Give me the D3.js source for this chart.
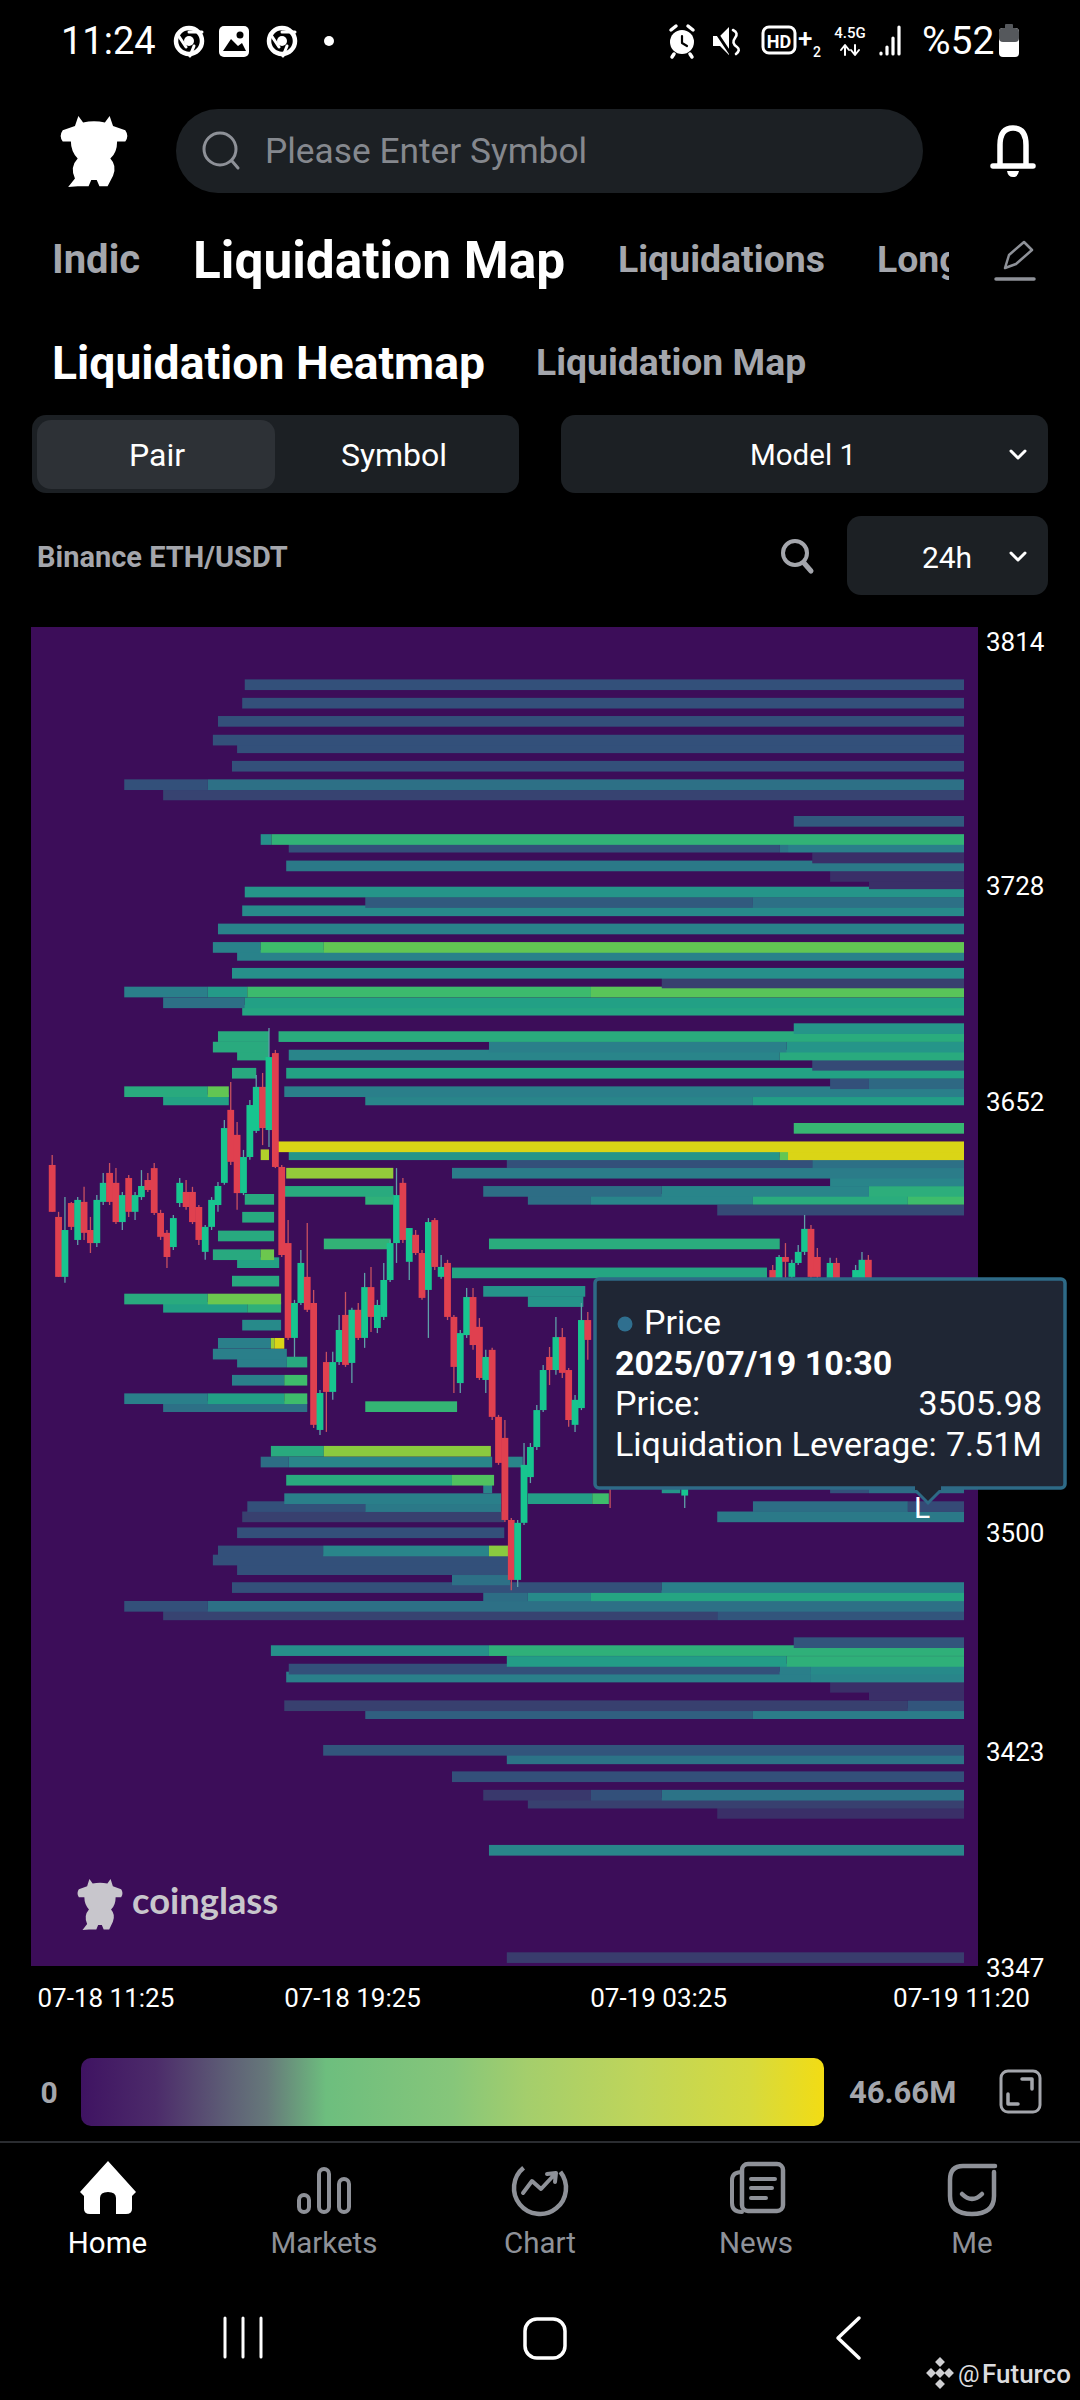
<!DOCTYPE html>
<html><head><meta charset="utf-8">
<script src="https://cdn.jsdelivr.net/npm/d3@7/dist/d3.min.js"></script>
<style>html,body{margin:0;padding:0;background:#000;}svg{display:block;}text{font-family:Roboto,sans-serif;}</style>
</head><body><svg id="c" width="1080" height="2400"></svg>
<script>
// ---------- DATA ----------
const priceTicks = [3814,3728,3652,3500,3423,3347];
const timeTicks = [0,480,960,1435];
const timeLabels = ["07-18 11:25","07-18 19:25","07-19 03:25","07-19 11:20"];
const valueStops = [0,3.5,5.5,8,11,14,17.5,20.5,24,28,32,37,42,46.66];
const valueColors = ["#3c0d59","#3a2f68","#38406f","#33507a","#2d6d85","#2a7f8a","#25938a","#22a085","#2aac7d","#3ebc6b","#62c653","#94cb3a","#c6d220","#ddd514"];
const legendStops = [0,.1,.2,.25,.33,.5,.6,.75,.9,1];
const legendColors = ["#3f1362","#4c2b6a","#5e6076","#66787a","#6dbe7e","#86c67a","#a4ce6c","#bfd55a","#d6da3e","#f2dc14"];
const tooltipTexts = ["Price","2025/07/19 10:30","Price:","3505.98","Liquidation Leverage:","7.51M"];
const navLabels = ["Home","Markets","Chart","News","Me"];

// heat levels: price of each row, and its cells [from minute, to minute, liquidation value in M]
const levelPrices = [3798.5,3792,3785.6,3779,3776.3,3769.8,3763.3,3759.7,3750.4,3744,3741.3,3737.5,3734.7,3731,3728.4,3725.5,3721.8,3718.9,3712.5,3706,3703.2,3696.9,3693.5,3690.3,3686.5,3683.9,3677.4,3674.6,3670.9,3668.1,3664.5,3661.7,3658,3655.2,3652.3,3642.3,3635.8,3633,3630.2,3626.5,3623.8,3620.1,3617.3,3613.5,3611,3604.4,3601.6,3597.8,3595,3591.4,3588.5,3584.9,3582.2,3581.3,3579.3,3573,3566.6,3562.8,3560,3553.6,3547.1,3544.3,3528.6,3524.8,3518.4,3515.7,3511.9,3509.1,3505.5,3499.9,3493.5,3490.3,3486.9,3483.3,3480.6,3477.7,3474,3471,3461.2,3458.4,3454.6,3451.9,3449.1,3445.5,3442.8,3439,3436.2,3423.3,3420.3,3414,3407.5,3404.7,3401.1,3388.1,3350.3];
const levelCells = [
[[307,1435,8]],[[303,1435,8]],[[265,1435,8]],[[257,1435,8]],[[295,1435,8]],[[287,1435,8]],
[[118,249,8],[249,1435,11.5]],[[179,1435,6]],[[1168,1435,9]],
[[332,349,17],[349,1435,25.5]],[[376,1146,8],[1146,1159,12],[1159,1435,14]],[[1197,1435,3.5]],[[372,1435,13]],[[1225,1435,3.5]],[[1286,1435,3.5]],
[[307,1435,18]],[[496,1104,9],[1104,1435,11.5]],[[303,1435,16]],[[265,1435,14.5]],
[[257,332,14.5],[332,431,28],[431,1435,32]],[[295,1435,14.5]],[[287,1435,17]],[[961,1435,5.5]],
[[118,249,14],[249,311,19],[311,850,27.5],[850,1435,31]],[[179,307,11.5],[307,1435,20.5]],[[303,1435,22]],[[1168,1435,18]],
[[265,345,23.5],[360,1435,24]],[[257,345,23.5],[690,1157,14],[1157,1435,18]],[[295,345,23.5],[376,1146,15],[1146,1435,23.5]],[[1197,1435,7]],
[[287,325,23],[372,1435,21]],[[1225,1286,8],[1286,1435,10.5]],[[118,249,23.5],[249,282,32],[369,1435,14]],[[179,282,21],[496,1104,15],[1104,1435,20]],
[[1168,1435,26.5]],[[354,1435,46]],[[332,345,40],[376,1146,18],[1146,1159,32],[1159,1435,46]],[[718,1197,8],[1197,1435,11.5]],
[[372,540,37],[632,1435,13.5]],[[1225,1435,15]],[[369,540,23.5],[681,961,11],[961,1286,15],[1286,1435,24.5]],
[[307,353,23],[496,540,25],[751,850,11],[850,1104,15],[1104,1347,24],[1347,1435,28]],[[1048,1435,7]],[[303,353,23]],[[265,353,23]],
[[431,536,25.5],[690,1146,24]],[[257,332,23],[332,353,33]],[[295,361,21]],[[632,1126,22]],[[287,361,23]],[[681,841,17.5]],
[[118,249,23.5],[249,364,33]],[[751,838,17.5]],[[179,311,20.5],[311,364,25]],[[303,364,16]],
[[265,348,14],[348,354,38],[354,369,46]],[[257,373,14]],[[295,373,14],[373,405,23]],[[287,369,14],[369,405,28]],
[[118,249,14],[249,369,20.5],[369,405,28]],[[179,405,11.5],[496,640,26]],
[[348,431,23.5],[431,693,36]],[[332,376,11],[376,695,15],[718,743,15]],[[372,632,23.5],[632,698,30]],
[[681,695,15],[961,990,18],[1225,1286,8],[1286,1435,11]],[[369,709,14],[751,852,20],[852,878,28]],
[[311,496,8],[496,709,13],[1104,1347,11],[1347,1435,7]],[[303,714,5.5],[1048,1435,13]],[[295,714,8]],
[[265,430,8],[430,690,15],[690,720,36]],[[257,720,8]],[[295,723,8]],[[632,723,11.5]],[[287,961,8],[961,1435,14]],
[[681,751,11],[751,850,16],[850,1435,22]],[[118,249,8],[249,1435,11.5]],[[179,1048,6],[1048,1435,8.5]],[[1168,1435,8.5]],
[[348,690,17],[690,1435,25]],[[718,1157,19.5],[1157,1435,25]],[[376,1146,8],[1146,1195,14],[1195,1435,16]],[[372,1195,14],[1195,1435,15]],
[[1225,1435,3.5]],[[1286,1435,3.5]],[[369,1347,5.5],[1347,1435,8.5]],[[496,1104,9.5],[1104,1435,13.5]],
[[430,1435,8.5]],[[718,1435,12]],[[632,1435,8]],[[681,850,4.5],[850,961,8],[961,1435,12]],[[751,1435,5.5]],[[1048,1435,3.5]],[[690,1435,15]],[[718,1435,5]]
];
const levelBand = 3.76;

// candles
const candleMinute = [5,15,25,35,45,55,65,75,85,95,105,115,125,135,145,155,165,175,185,195,205,215,225,235,245,255,265,275,285,295,305,315,325,335,345,355,365,375,385,395,405,415,425,435,445,455,465,475,485,495,505,515,525,535,545,555,565,575,585,595,605,615,625,635,645,655,665,675,685,695,705,715,725,735,745,755,765,775,785,795,805,815,825,835,845,880,997,1135,1145,1155,1165,1175,1185,1195,1205,1225,1235,1265,1275,1285];
const candleOpen = [3629.4,3611.1,3590,3616,3603,3616.4,3606.5,3601.9,3616.4,3626.6,3623.1,3609.3,3624.8,3612.9,3618.1,3624.1,3628.3,3612.5,3605.5,3600.5,3616,3619.9,3619.9,3614.6,3598.8,3607.6,3615.3,3623.1,3648.8,3640,3619.5,3632.2,3641.4,3656.9,3641.7,3668.8,3628.7,3601.9,3568.5,3580.8,3590,3580.8,3536.1,3560,3549.5,3560,3576.6,3559.7,3578.4,3568.5,3586.4,3572,3575.9,3588.9,3601.9,3623.1,3595.3,3604.8,3598.4,3585.4,3610,3590,3594.9,3575.9,3552.6,3569.5,3582.9,3572.4,3553.7,3564.3,3540.7,3533.3,3504.4,3483.3,3503.4,3519.5,3530.1,3543.1,3561.8,3557.2,3568.8,3557.2,3537.9,3543.8,3574.8,3531,3513,3592.4,3589.6,3597,3590,3594.9,3598.8,3606.9,3597,3587.2,3594.9,3587.2,3587.2,3596];
const candleClose = [3612.9,3590,3606.5,3607.6,3617.1,3605.5,3601.9,3617.1,3623.1,3616.4,3609.3,3618.8,3612.9,3618.8,3622,3620.6,3612.5,3604.1,3597,3610.7,3623.1,3614.6,3609.3,3603,3607.6,3617.1,3622,3642.4,3630.5,3619.5,3632.2,3650.5,3656.9,3642.4,3667.4,3628.7,3597.7,3568.5,3580.8,3594.9,3578.4,3537.9,3549.1,3549.5,3560,3571.3,3559,3578.4,3568.5,3586.4,3575.9,3580.1,3588.9,3601.9,3618.8,3603,3607.2,3598.4,3582.6,3609.3,3593.5,3593.5,3575.9,3558.3,3570.2,3582.9,3566,3554.4,3561.8,3540.7,3524.5,3504.4,3483.3,3503.4,3523.8,3530.1,3543.1,3557.2,3557.2,3568.8,3556.2,3539.6,3546.7,3574.8,3567.8,3522,3529,3585.4,3597,3595.3,3594.9,3598.8,3606.9,3590,3590,3594.9,3587.2,3592.4,3596,3587.2];
const candleHigh = [3632.9,3612.9,3618.1,3616.4,3618.1,3621.7,3611.1,3618.8,3626.6,3630.1,3628.3,3619.9,3625.9,3619.9,3627.6,3626.6,3630.1,3613.6,3606.5,3611.8,3624.8,3624.1,3621.7,3615.3,3608.3,3618.1,3623.4,3645.2,3658.6,3644.5,3634.7,3652.3,3661.1,3661.8,3677.6,3669.9,3629.4,3610,3581.9,3599.5,3609,3585.4,3550.2,3563.6,3563.6,3576.6,3584.7,3579.1,3580.8,3591.4,3593.5,3581.9,3594.9,3603,3628.3,3624.8,3607.2,3606.5,3599.5,3610.7,3610.7,3597.7,3596,3576.6,3571.3,3586.1,3586.1,3575.5,3564.3,3565,3541.4,3539.6,3505.1,3504.4,3531.5,3531.5,3544.9,3559,3565.3,3575.9,3572,3557.9,3548.4,3580.8,3577.6,3533,3532,3594.2,3597.7,3601.9,3596,3601.2,3611.8,3608.3,3600.2,3596.7,3596.7,3594.2,3598.8,3597.7];
const candleLow = [3612.9,3590,3587.9,3606.5,3601.2,3603,3598.4,3600.5,3615.3,3615.3,3608.6,3606.5,3611.1,3610,3617.1,3619.9,3611.8,3603,3593.1,3599.5,3614.6,3613.6,3608.6,3601.2,3596,3606.5,3612.9,3622.4,3629.4,3613.6,3618.8,3631.2,3640.7,3636.4,3635.7,3628.3,3597,3567.8,3561.8,3580.1,3577.6,3536.8,3534.3,3535.4,3546.7,3559,3558.3,3552.6,3567.8,3565,3570.6,3570.2,3574.8,3588.2,3594.9,3601.9,3588.9,3597.7,3581.9,3568.5,3592.4,3589.3,3574.8,3549.1,3549.1,3568.5,3564.3,3553.7,3549.1,3539.6,3523.8,3503.7,3479.7,3480.8,3502.6,3517.4,3529,3542.4,3551.9,3555.5,3554.4,3537.2,3535.4,3543.1,3560.8,3508.6,3508.6,3584,3581.9,3588.9,3587.2,3594.2,3597.7,3587.2,3585.4,3583.6,3583.6,3583.6,3583.6,3583.6];

// ---------- SCALES ----------
const svg = d3.select("#c");
const x = d3.scaleLinear().domain([0,1435]).range([49,964]);
const y = d3.scaleLinear().domain([3347,3819]).range([1967,626.5]);
const color = d3.scaleLinear().domain(valueStops).range(valueColors);
const GRAY="#8e9198", PANEL="#1c2024", LIGHT="#a4a6ac";
const defs = svg.append("defs");

function txt(s,px,py,size,fill,weight,anchor){
  return svg.append("text").attr("x",px).attr("y",py).attr("font-size",size).attr("fill",fill)
    .attr("font-weight",weight||400).attr("text-anchor",anchor||"start").attr("dominant-baseline","central").text(s);
}
function rr(px,py,w,h,r,fill){return svg.append("rect").attr("x",px).attr("y",py).attr("width",w).attr("height",h).attr("rx",r).attr("fill",fill);}
function stroke(d,col,w,g){return (g||svg).append("path").attr("d",d).attr("fill","none").attr("stroke",col).attr("stroke-width",w).attr("stroke-linecap","round").attr("stroke-linejoin","round");}
const bullPath="M27 0L34 9Q50 6 66 9L73 0L78 14L96 20Q102 28 96 36L84 36Q84 52 74 60Q84 70 78 84L70 99L58 99L54 90L46 90L42 99L26 99L12 100L22 88Q14 72 26 60Q16 50 16 36L4 36Q-2 28 4 20L22 14Z";

// ---------- STATUS BAR ----------
txt("11:24",61,41,38,"#fff");
function chromeIcon(cx,cy){const g=svg.append("g").attr("transform",`translate(${cx},${cy})`);
  g.append("circle").attr("r",13).attr("fill","none").attr("stroke","#fff").attr("stroke-width",4.5);
  g.append("circle").attr("r",5).attr("fill","#fff");
  stroke("M0 -9L13 -9M-3 6L-11 -6M5 5L1 15",  "#fff",3,g);}
chromeIcon(189,41);chromeIcon(282,41);
rr(219,26,30,31,5,"#fff");
svg.append("circle").attr("cx",240).attr("cy",35).attr("r",3.5).attr("fill","#000");
svg.append("path").attr("d","M223 51L231 39L238 46L242 43L246 51Z").attr("fill","#000");
svg.append("circle").attr("cx",329).attr("cy",41).attr("r",5).attr("fill","#fff");
// alarm
svg.append("circle").attr("cx",682).attr("cy",42).attr("r",12).attr("fill","#fff");
stroke("M682 36L682 43L687 46","#000",2.2);
stroke("M671 30L676 26M693 30L688 26M674 54L672 57M690 54L692 57","#fff",3.5);
// mute
svg.append("path").attr("d","M713 36L720 36L729 27L729 55L720 46L713 46Z").attr("fill","#fff");
stroke("M714 29L730 53","#000",3);
stroke("M733 30Q739 33 735 38Q731 43 737 47Q741 50 736 54","#fff",2.6);
// HD+
rr(763,27,32,26,6,"none").attr("stroke","#fff").attr("stroke-width",3);
svg.append("text").attr("x",779).attr("y",41).attr("font-size",18).attr("font-weight",700).attr("fill","#fff").attr("text-anchor","middle").attr("dominant-baseline","central").text("HD");
txt("+",798,38,26,"#fff",500);
txt("2",813,52,14,"#fff",500);
txt("4.5G",850,33,15,"#fff",500,"middle");
stroke("M845 46L845 55M841 50L845 45L849 50M855 45L855 54M851 50L855 55L859 50","#fff",2);
stroke("M881 53L881 54M887 47L887 54M893 38L893 54M899 27L899 54","#fff",3.2);
txt("%52",922,41,39,"#fff");
rr(999,28,20,29,4,"#fff");
rr(999,28,20,14,4,"#55585c");
rr(1005,24,8,5,1,"#55585c");

// ---------- HEADER ----------
svg.append("path").attr("d",bullPath).attr("fill","#fff").attr("transform","translate(60,116) scale(0.68,0.71)");
rr(176,109,747,84,42,PANEL);
svg.append("circle").attr("cx",220).attr("cy",149).attr("r",16).attr("fill","none").attr("stroke",GRAY).attr("stroke-width",3);
stroke("M232 161L238 168",GRAY,3);
txt("Please Enter Symbol",265,151,35.3,"#85888e");
stroke("M1000 165L1000 145Q1000 128 1013 128Q1026 128 1026 145L1026 165M993 166L1033 166","#fff",5.5);
svg.append("path").attr("d","M1007 171L1019 171Q1018 177 1013 177Q1008 177 1007 171Z").attr("fill","#fff");

txt("Indic",52,259,40,LIGHT,700);
txt("Liquidation Map",193,260,51.4,"#fff",700);
txt("Liquidations",618,259,37.4,LIGHT,700);
svg.append("clipPath").attr("id","clipTab").append("rect").attr("x",870).attr("y",230).attr("width",79).attr("height",60);
txt("Long",877,259,37.4,LIGHT,700).attr("clip-path","url(#clipTab)");
stroke("M1005 268L1009 255L1024 242L1032 250L1016 264Z",GRAY,2.5);
stroke("M996 279L1034 279",GRAY,3.5);

txt("Liquidation Heatmap",52,363,46.3,"#fff",700);
txt("Liquidation Map",536,362,37.3,LIGHT,700);

rr(32,415,487,78,14,PANEL);
rr(37,420,238,69,14,"#2d3136");
txt("Pair",157,455,32,"#fff",400,"middle");
txt("Symbol",394,455,32,"#fff",400,"middle");
rr(561,415,487,78,14,PANEL);
txt("Model 1",803,455,29.5,"#fff",400,"middle");
stroke("M1011 451L1018 458L1025 451","#fff",3);
txt("Binance ETH/USDT",37,557,29,LIGHT,700);
svg.append("circle").attr("cx",795).attr("cy",553).attr("r",12).attr("fill","none").attr("stroke",LIGHT).attr("stroke-width",4);
stroke("M804 563L811 571",LIGHT,5);
rr(847,516,201,79,14,PANEL);
txt("24h",947,557,30,"#fff",400,"middle");
stroke("M1011 553L1018 560L1025 553","#fff",3);

// ---------- PLOT ----------
rr(31,627,947,1339,0,"#3c0d59");

// heat cells, lowest price first so upper rows overlap the rows beneath
const cellRows = levelPrices.map((p,i)=>({p,cells:levelCells[i]})).sort((a,b)=>a.p-b.p);
const heat = svg.append("g");
heat.selectAll("g").data(cellRows).join("g")
  .selectAll("rect").data(d=>d.cells.map(c=>({p:d.p,from:c[0],to:c[1],v:c[2]}))).join("rect")
  .attr("x",d=>x(d.from)).attr("width",d=>x(d.to)-x(d.from))
  .attr("y",d=>y(d.p+levelBand/2)).attr("height",d=>y(d.p-levelBand/2)-y(d.p+levelBand/2))
  .attr("fill",d=>color(d.v));

// watermark
svg.append("path").attr("d",bullPath).attr("fill","#c8c6cc").attr("transform","translate(77,1879) scale(0.46,0.51)");
svg.append("text").attr("x",132).attr("y",1914).attr("font-size",36.3).attr("font-weight",700).attr("fill","#c8c6cc")
  .style("font-family","Lato,sans-serif").text("coinglass");

// candles
const candles = candleMinute.map((m,i)=>({m,o:candleOpen[i],c:candleClose[i],h:candleHigh[i],l:candleLow[i]}));
const RED="#e0404f", GREEN="#17c58f", BODYW=6.8;
const cg = svg.append("g");
cg.selectAll("line").data(candles).join("line")
  .attr("x1",d=>x(d.m)).attr("x2",d=>x(d.m)).attr("y1",d=>y(d.h)).attr("y2",d=>y(d.l))
  .attr("stroke",d=>d.c>=d.o?"#5fa0a8":"#c8505f").attr("stroke-width",1.3);
cg.selectAll("rect").data(candles).join("rect")
  .attr("x",d=>x(d.m)-BODYW/2).attr("width",BODYW)
  .attr("y",d=>y(Math.max(d.o,d.c))).attr("height",d=>Math.max(1,Math.abs(y(d.o)-y(d.c))))
  .attr("fill",d=>d.c>=d.o?GREEN:RED);

// axes
const yAxis = d3.axisRight(y).tickValues(priceTicks).tickSize(0).tickPadding(8).tickFormat(d3.format("d"));
const yg = svg.append("g").attr("transform","translate(978,1)").call(yAxis);
yg.select(".domain").remove();
yg.selectAll("text").attr("fill","#fff").attr("font-size",26).style("font-family","Roboto,sans-serif");
const xAxis = d3.axisBottom(x).tickValues(timeTicks).tickSize(0).tickPadding(0).tickFormat((d,i)=>timeLabels[i]);
const xg = svg.append("g").attr("transform","translate(-3,1989)").call(xAxis);
xg.select(".domain").remove();
xg.selectAll("text").attr("fill","#fff").attr("font-size",26).style("font-family","Roboto,sans-serif");
xg.selectAll("text").filter((d,i)=>i===0).attr("text-anchor","start").attr("x",-9);

// tooltip
const ttStroke="#2e6a86";
svg.append("path").attr("d","M913 1488L928 1503L943 1488Z").attr("fill","#1f2634").attr("stroke",ttStroke).attr("stroke-width",3);
rr(595,1279,470,209,4,"#1f2634").attr("stroke",ttStroke).attr("stroke-width",3.5);
svg.append("rect").attr("x",915).attr("y",1484).attr("width",26).attr("height",6).attr("fill","#1f2634");
svg.append("circle").attr("cx",625).attr("cy",1324).attr("r",7.5).attr("fill","#2f6f8f");
txt(tooltipTexts[0],644,1322,34,"#fff");
txt(tooltipTexts[1],615,1363,34,"#fff",700);
txt(tooltipTexts[2],615,1403,34,"#fff");
txt(tooltipTexts[3],1042,1403,34,"#fff",400,"end");
txt(tooltipTexts[4],615,1444,34,"#fff");
txt(tooltipTexts[5],1042,1444,34,"#fff",400,"end");
txt("L",914,1507,30,"#fff");

// ---------- LEGEND ----------
txt("0",49,2092,30,LIGHT,700,"middle");
const lg = defs.append("linearGradient").attr("id","lg");
lg.selectAll("stop").data(legendStops).join("stop").attr("offset",d=>d).attr("stop-color",(d,i)=>legendColors[i]);
rr(81,2058,743,68,10,"url(#lg)");
txt("46.66M",849,2092,31,LIGHT,700);
rr(1001,2071,39,41,7,"none").attr("stroke",LIGHT).attr("stroke-width",3);
stroke("M1022 2079L1032 2079L1032 2089M1018 2104L1008 2104L1008 2094",LIGHT,3.5);

svg.append("line").attr("x1",0).attr("x2",1080).attr("y1",2142).attr("y2",2142).attr("stroke","#2a2c30").attr("stroke-width",2);

// ---------- NAV ----------
const navX=[107.5,324,540,756,972];
navLabels.forEach((s,i)=>txt(s,navX[i],2243,29.5,i?GRAY:"#fff",400,"middle"));
svg.append("path").attr("d","M108 2161L136 2192L132 2196L132 2209Q132 2214 126 2214L116 2214L116 2198Q116 2192 108 2192Q100 2192 100 2198L100 2214L90 2214Q84 2214 84 2209L84 2196L80 2192Z").attr("fill","#fff");
[[304,2195],[324,2169],[344,2179]].forEach(b=>rr(b[0]-5,b[1],10,2212-b[1],5,"none").attr("stroke",GRAY).attr("stroke-width",4));
svg.append("path").attr("d",d3.arc()({innerRadius:26,outerRadius:26,startAngle:0.9,endAngle:5.6})).attr("transform","translate(540,2188)").attr("fill","none").attr("stroke",GRAY).attr("stroke-width",4.5);
stroke("M523 2193L532 2181L541 2189L555 2174M547 2174L556 2173L555 2182",GRAY,4);
rr(742,2164,41,47,6,"none").attr("stroke",GRAY).attr("stroke-width",4.5);
stroke("M742 2172Q732 2172 732 2180L732 2203Q732 2212 742 2212M751 2179L775 2179M751 2188L772 2188M751 2198L766 2198",GRAY,4);
stroke("M995 2166L963 2166Q950 2166 950 2180L950 2196Q950 2214 972 2214Q994 2214 994 2196L994 2172",GRAY,4.5);
stroke("M962 2194Q972 2204 982 2194",GRAY,4.5);

// system bar
stroke("M225 2318L225 2357M243 2318L243 2357M261 2318L261 2357","#fff",3);
rr(525,2319,40,39,12,"none").attr("stroke","#fff").attr("stroke-width",3.5);
stroke("M859 2318L838 2338L859 2358","#fff",3.5);
svg.append("g").attr("fill","#cfcfd2").selectAll("rect").data([[940,2362],[931,2373],[949,2373],[940,2384],[940,2373]]).join("rect")
  .attr("x",d=>d[0]-3.5).attr("y",d=>d[1]-3.5).attr("width",7).attr("height",7).attr("transform",d=>`rotate(45 ${d[0]} ${d[1]})`);
txt("@",958,2374,24,"#dcdcdf");
txt("Futurco",982,2374,26,"#dcdcdf",500);
</script></body></html>
